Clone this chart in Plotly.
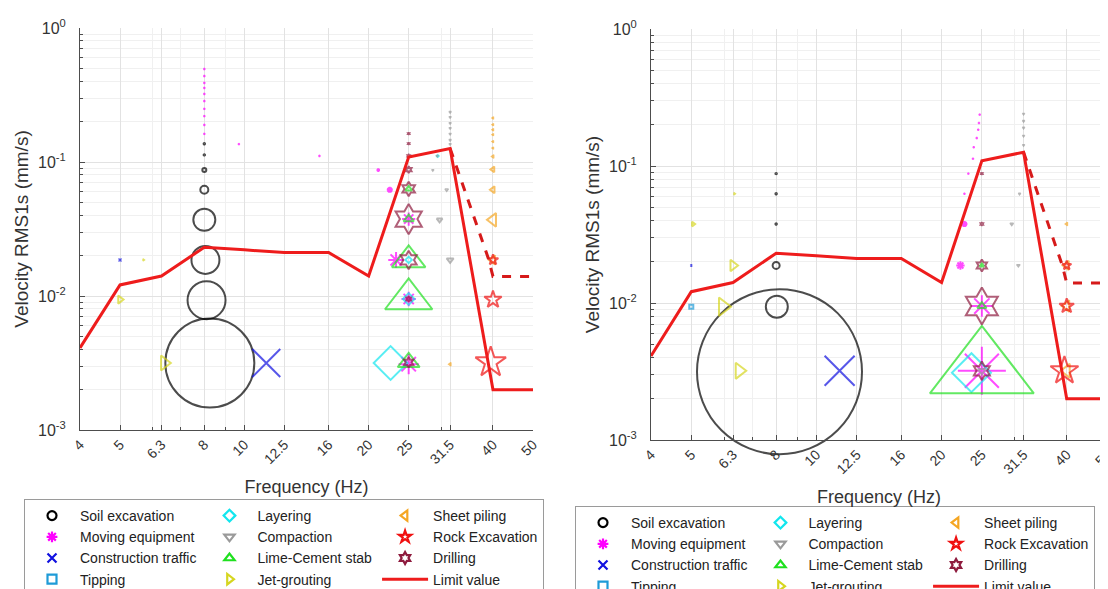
import math
import plotly.graph_objects as go

# ---------------- axis ticks ----------------
FREQ_TICKS = [4, 5, 6.3, 8, 10, 12.5, 16, 20, 25, 31.5, 40, 50]
FREQ_LABELS = ['4', '5', '6.3', '8', '10', '12.5', '16', '20', '25', '31.5', '40', '50']
FREQ_MINOR = [6, 7, 9, 30]
V_TICKS = [0.001, 0.01, 0.1, 1]
V_LABELS = ['10<sup>-3</sup>', '10<sup>-2</sup>', '10<sup>-1</sup>', '10<sup>0</sup>']
V_MINOR = [m * 10 ** e for e in (-3, -2, -1) for m in range(2, 10)]

# ---------------- limit value ----------------
LIMIT_F = [4, 5, 6.3, 8, 10, 12.5, 16, 20, 25, 31.5, 40, 50]
LIMIT_V = [0.0041, 0.0121, 0.0141, 0.0231, 0.0221, 0.0211, 0.0211, 0.0141, 0.109, 0.126, 0.002, 0.002]
LIMIT_DASH_F = [31.5, 39, 40, 50]
LIMIT_DASH_V = [0.126, 0.019, 0.014, 0.014]

CATEGORIES = ['Soil excavation', 'Moving equipment', 'Construction traffic', 'Tipping',
              'Layering', 'Compaction', 'Lime-Cement stab', 'Jet-grouting',
              'Sheet piling', 'Rock Excavation', 'Drilling']

# ---------------- left panel (A) data: frequency, velocity, bubble diameter ----------------
A_SOIL_F = [8, 8, 8.05, 8.1, 8.25, 8, 8, 8]
A_SOIL_V = [0.062, 0.037, 0.0186, 0.0093, 0.00316, 0.087, 0.113, 0.137]
A_SOIL_D = [8, 22, 28, 38, 89, 4, 2, 2]

A_MOV_F = [8, 8, 8, 8, 8, 8, 8, 8, 8, 8, 9.7, 15.2, 21.1, 22.5, 23.3, 25, 25, 25]
A_MOV_V = [0.162, 0.189, 0.22, 0.249, 0.285, 0.322, 0.357, 0.389, 0.438, 0.494,
           0.136, 0.111, 0.087, 0.062, 0.0186, 0.0375, 0.0095, 0.0031]
A_MOV_D = [2, 2, 2, 2, 2, 2, 2, 2, 2, 2, 2, 2, 3, 5, 13, 11, 12, 17]

A_TRAF_F = [5, 11.3]
A_TRAF_V = [0.0186, 0.00316]
A_TRAF_D = [3, 28]

A_TIP_F = []
A_TIP_V = []
A_TIP_D = []

A_LAY_F = [22.6, 25, 25, 29.4]
A_LAY_V = [0.00316, 0.0186, 0.0095, 0.111]
A_LAY_D = [26, 5, 9, 2]

A_COMP_F = [31.5, 31.5, 31.5, 31.5, 31.5, 31.5, 31.5, 29.3, 28.6, 30.9, 29.7, 31.5]
A_COMP_V = [0.136, 0.146, 0.162, 0.179, 0.195, 0.216, 0.236, 0.111, 0.087, 0.062, 0.037, 0.0186]
A_COMP_D = [2, 2, 2, 2, 2, 2, 2, 2, 2, 3, 5, 6]

A_LIME_F = [25, 25, 25, 25, 25]
A_LIME_V = [0.063, 0.0375, 0.0186, 0.0095, 0.0032]
A_LIME_D = [6, 9, 29, 41, 19]

A_JET_F = [5, 5.7, 6.4]
A_JET_V = [0.0094, 0.0186, 0.00316]
A_JET_D = [7, 2, 13]

A_SHEET_F = [40, 40, 40, 40, 40, 40, 40, 40, 40, 40, 40, 31.5]
A_SHEET_V = [0.213, 0.19, 0.174, 0.16, 0.142, 0.127, 0.11, 0.088, 0.062, 0.037, 0.0186, 0.0031]
A_SHEET_D = [2, 2, 2, 2, 2, 2, 3, 5, 6, 12, 8, 3]

A_ROCK_F = [40, 40, 39.5]
A_ROCK_V = [0.0186, 0.0094, 0.0032]
A_ROCK_D = [8, 13, 23]

A_DRILL_F = [25, 25, 25, 25, 25, 25, 25, 25, 25]
A_DRILL_V = [0.163, 0.137, 0.111, 0.0877, 0.063, 0.0375, 0.0186, 0.0095, 0.0032]
A_DRILL_D = [2, 2, 3, 5, 11, 23, 14, 4, 8]

# ---------------- right panel (B) data ----------------
B_SOIL_F = [8, 8, 8, 8, 8.03, 8.15]
B_SOIL_V = [0.0879, 0.0627, 0.0377, 0.0188, 0.0094, 0.00315]
B_SOIL_D = [2, 2, 2, 7, 22, 165]

B_MOV_F = [24.7, 24.6, 24.5, 24.3, 23.9, 23.8, 23.2, 22.7, 22.7, 22.2, 25, 25]
B_MOV_V = [0.237, 0.206, 0.184, 0.16, 0.137, 0.113, 0.088, 0.0627, 0.0377, 0.0188, 0.0095, 0.0032]
B_MOV_D = [2, 2, 2, 2, 2, 2, 2, 2, 5, 7, 18, 40]

B_TRAF_F = [5, 11.37]
B_TRAF_V = [0.0188, 0.0032]
B_TRAF_D = [2, 30]

B_TIP_F = [5]
B_TIP_V = [0.0094]
B_TIP_D = [4]

B_LAY_F = [23.6]
B_LAY_V = [0.0031]
B_LAY_D = [30]

B_COMP_F = [31.5, 31.5, 31.5, 31.5, 31.5, 30.8, 29.5, 30.6, 25]
B_COMP_V = [0.24, 0.213, 0.19, 0.166, 0.142, 0.0627, 0.0377, 0.0188, 0.0032]
B_COMP_D = [2, 2, 2, 2, 2, 2, 3, 3, 7]

B_LIME_F = [25, 25, 25]
B_LIME_V = [0.0188, 0.0095, 0.0032]
B_LIME_D = [4, 8, 90]

B_JET_F = [5.05, 6.35, 6.3, 5.96, 6.52]
B_JET_V = [0.0377, 0.0627, 0.0188, 0.0094, 0.0032]
B_JET_D = [4, 2, 10, 16, 14]

B_SHEET_F = [40, 40, 40, 40]
B_SHEET_V = [0.0377, 0.0188, 0.0095, 0.0032]
B_SHEET_D = [3, 8, 10, 12]

B_ROCK_F = [40, 40, 39.5]
B_ROCK_V = [0.0188, 0.0095, 0.0032]
B_ROCK_D = [7, 11, 21]

B_DRILL_F = [25, 25, 25, 25, 25]
B_DRILL_V = [0.088, 0.0377, 0.0188, 0.0095, 0.0032]
B_DRILL_D = [2, 3, 9, 28, 14]

# ---------------- styles ----------------
SYMBOL = {
    'Soil excavation': 'circle-open', 'Moving equipment': 'asterisk-open',
    'Construction traffic': 'x-thin-open', 'Tipping': 'square-open',
    'Layering': 'diamond-open', 'Compaction': 'triangle-down-open',
    'Lime-Cement stab': 'triangle-up-open', 'Jet-grouting': 'triangle-right-open',
    'Sheet piling': 'triangle-left-open', 'Rock Excavation': 'star-open',
    'Drilling': 'hexagram-open',
}
COLOR = {
    'Soil excavation': '#000000', 'Moving equipment': '#FF00FF',
    'Construction traffic': '#1010E0', 'Tipping': '#1E9BD7',
    'Layering': '#12E6EE', 'Compaction': '#9A9A9A',
    'Lime-Cement stab': '#1FE01F', 'Jet-grouting': '#D6D620',
    'Sheet piling': '#F5A623', 'Rock Excavation': '#F01010',
    'Drilling': '#8E1B3E',
}
LIMIT_COLOR = '#EE1C1C'
FONT = 'Liberation Sans, Arial, Helvetica, sans-serif'

PANELS = [
    ('x', 'y', 'legend', {
        'Soil excavation': (A_SOIL_F, A_SOIL_V, A_SOIL_D),
        'Moving equipment': (A_MOV_F, A_MOV_V, A_MOV_D),
        'Construction traffic': (A_TRAF_F, A_TRAF_V, A_TRAF_D),
        'Tipping': (A_TIP_F, A_TIP_V, A_TIP_D),
        'Layering': (A_LAY_F, A_LAY_V, A_LAY_D),
        'Compaction': (A_COMP_F, A_COMP_V, A_COMP_D),
        'Lime-Cement stab': (A_LIME_F, A_LIME_V, A_LIME_D),
        'Jet-grouting': (A_JET_F, A_JET_V, A_JET_D),
        'Sheet piling': (A_SHEET_F, A_SHEET_V, A_SHEET_D),
        'Rock Excavation': (A_ROCK_F, A_ROCK_V, A_ROCK_D),
        'Drilling': (A_DRILL_F, A_DRILL_V, A_DRILL_D),
    }),
    ('x2', 'y2', 'legend2', {
        'Soil excavation': (B_SOIL_F, B_SOIL_V, B_SOIL_D),
        'Moving equipment': (B_MOV_F, B_MOV_V, B_MOV_D),
        'Construction traffic': (B_TRAF_F, B_TRAF_V, B_TRAF_D),
        'Tipping': (B_TIP_F, B_TIP_V, B_TIP_D),
        'Layering': (B_LAY_F, B_LAY_V, B_LAY_D),
        'Compaction': (B_COMP_F, B_COMP_V, B_COMP_D),
        'Lime-Cement stab': (B_LIME_F, B_LIME_V, B_LIME_D),
        'Jet-grouting': (B_JET_F, B_JET_V, B_JET_D),
        'Sheet piling': (B_SHEET_F, B_SHEET_V, B_SHEET_D),
        'Rock Excavation': (B_ROCK_F, B_ROCK_V, B_ROCK_D),
        'Drilling': (B_DRILL_F, B_DRILL_V, B_DRILL_D),
    }),
]

LEGEND_GROUPS = [CATEGORIES[0:4], CATEGORIES[4:8], CATEGORIES[8:11] + ['Limit value']]

fig = go.Figure()

for xa, ya, leg, data in PANELS:
    # data markers
    for cat in CATEGORIES:
        f, v, d = data[cat]
        if not f:
            continue
        lw = [1.4 if s <= 3 else 2.0 for s in d]
        fig.add_trace(go.Scatter(
            x=f, y=v, mode='markers', xaxis=xa, yaxis=ya, showlegend=False,
            cliponaxis=False,
            marker=dict(symbol=SYMBOL[cat], size=d, color=COLOR[cat],
                        line=dict(color=COLOR[cat], width=lw)),
            hoverinfo='skip'))
    # limit value lines
    fig.add_trace(go.Scatter(x=LIMIT_DASH_F, y=LIMIT_DASH_V, mode='lines', xaxis=xa, yaxis=ya,
                             showlegend=False, line=dict(color='#D61A1A', width=3, dash='dash'),
                             hoverinfo='skip'))
    fig.add_trace(go.Scatter(x=LIMIT_F, y=LIMIT_V, mode='lines', xaxis=xa, yaxis=ya,
                             showlegend=False, line=dict(color=LIMIT_COLOR, width=3),
                             hoverinfo='skip'))
    # legend entries
    for gi, group in enumerate(LEGEND_GROUPS):
        for cat in group:
            if cat == 'Limit value':
                fig.add_trace(go.Scatter(x=[None], y=[None], mode='lines', name=cat,
                                         xaxis=xa, yaxis=ya, legend=leg,
                                         legendgroup=f'{leg}_{gi}',
                                         line=dict(color=LIMIT_COLOR, width=3)))
            else:
                fig.add_trace(go.Scatter(x=[None], y=[None], mode='markers', name=cat,
                                         xaxis=xa, yaxis=ya, legend=leg,
                                         legendgroup=f'{leg}_{gi}',
                                         marker=dict(symbol=SYMBOL[cat], size=9, color=COLOR[cat],
                                                     line=dict(color=COLOR[cat], width=2.2))))

W, H = 1108, 589


def xaxis_cfg(x0, x1, standoff):
    return dict(
        type='log', domain=[x0 / W, x1 / W], range=[math.log10(4), math.log10(50)],
        automargin=False,
        tickmode='array', tickvals=FREQ_TICKS, ticktext=FREQ_LABELS, tickangle=-45,
        ticks='inside', ticklen=5, tickcolor='#4D4D4D', showline=True, linecolor='#4D4D4D',
        linewidth=1, mirror=False, showgrid=True, gridcolor='#E2E2E2', gridwidth=1,
        zeroline=False, tickfont=dict(family=FONT, size=14, color='#333333'),
        minor=dict(tickmode='array', tickvals=FREQ_MINOR, ticks='inside', ticklen=3,
                   tickcolor='#4D4D4D', showgrid=True, gridcolor='#F0F0F0'),
        title=dict(text='Frequency (Hz)', font=dict(family=FONT, size=18, color='#333333'),
                   standoff=standoff),
    )


def yaxis_cfg(y_top, y_bot, anchor):
    return dict(
        type='log', domain=[1 - y_bot / H, 1 - y_top / H], range=[-3, 0], anchor=anchor,
        automargin=False,
        tickmode='array', tickvals=V_TICKS, ticktext=V_LABELS, ticklabelstandoff=10,
        ticks='inside', ticklen=5, tickcolor='#4D4D4D', showline=True, linecolor='#4D4D4D',
        linewidth=1, mirror=False, showgrid=True, gridcolor='#E2E2E2', gridwidth=1,
        zeroline=False, tickfont=dict(family=FONT, size=16, color='#333333'),
        minor=dict(tickmode='array', tickvals=V_MINOR, ticks='inside', ticklen=3,
                   tickcolor='#4D4D4D', showgrid=True, gridcolor='#F0F0F0'),
        title=dict(text='Velocity RMS1s (mm/s)', font=dict(family=FONT, size=19, color='#333333'),
                   standoff=4),
    )


legend_common = dict(
    orientation='h', traceorder='grouped', xanchor='left', yanchor='top',
    bgcolor='white', bordercolor='#9A9A9A', borderwidth=1,
    font=dict(family=FONT, size=14, color='#222222'), itemwidth=46,
    entrywidth=0, tracegroupgap=0, itemclick=False, itemdoubleclick=False,
)

fig.update_layout(
    width=W, height=H, margin=dict(l=0, r=0, t=0, b=0, autoexpand=False),
    paper_bgcolor='white', plot_bgcolor='white',
    font=dict(family=FONT, color='#333333'),
    xaxis=dict(xaxis_cfg(72, 525, 14), anchor='y'),
    yaxis=yaxis_cfg(20, 422, 'x'),
    xaxis2=dict(xaxis_cfg(643, 1099, 14), anchor='y2'),
    yaxis2=yaxis_cfg(21, 432, 'x2'),
    legend=dict(legend_common, x=16 / W, y=1 - 491 / H),
    legend2=dict(legend_common, x=567 / W, y=1 - 498 / H),
    showlegend=True,
)

fig.write_html('out.html')
